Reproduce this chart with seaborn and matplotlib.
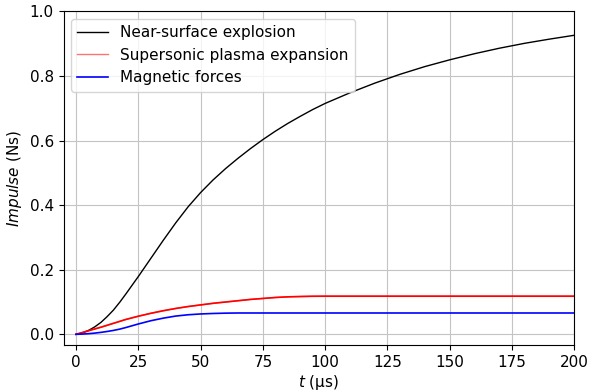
import matplotlib
matplotlib.use("Agg")
import matplotlib.pyplot as plt
import seaborn as sns
import pandas as pd

t = [0, 2.5, 5, 7.5, 10, 12.5, 15, 17.5, 20, 25, 30, 35, 40, 45, 50, 55, 60, 65, 70, 75,
     80, 85, 90, 95, 100, 110, 120, 130, 140, 150, 160, 170, 180, 190, 200]
near_surface = [0.0, 0.004, 0.012, 0.023, 0.037, 0.055, 0.075, 0.099, 0.125, 0.179,
                0.235, 0.291, 0.345, 0.395, 0.439, 0.478, 0.513, 0.545, 0.575, 0.603,
                0.629, 0.653, 0.675, 0.696, 0.715, 0.748, 0.778, 0.805, 0.829, 0.850,
                0.869, 0.886, 0.901, 0.914, 0.926]
plasma = [0.0, 0.0055, 0.011, 0.0165, 0.022, 0.028, 0.034, 0.040, 0.046, 0.056,
          0.065, 0.073, 0.080, 0.086, 0.091, 0.096, 0.100, 0.104, 0.108, 0.111,
          0.114, 0.116, 0.117, 0.1178, 0.118, 0.118, 0.118, 0.118, 0.118, 0.118,
          0.118, 0.118, 0.118, 0.118, 0.118]
magnetic = [0.0, 0.0007, 0.002, 0.0037, 0.006, 0.0088, 0.012, 0.016, 0.021, 0.032,
            0.042, 0.050, 0.0565, 0.0605, 0.063, 0.0645, 0.0655, 0.066, 0.066, 0.066,
            0.066, 0.066, 0.066, 0.066, 0.066, 0.066, 0.066, 0.066, 0.066, 0.066,
            0.066, 0.066, 0.066, 0.066, 0.066]

labels = ["Near-surface explosion", "Supersonic plasma expansion", "Magnetic forces"]

df = pd.DataFrame({"t": t, "black": near_surface, "red": plasma, "blue": magnetic})

fig = plt.figure(figsize=(5.89, 3.92), dpi=100)
ax = fig.add_axes([0.108, 0.12, 0.867, 0.851])

sns.lineplot(data=df, x="t", y="black", color="black", lw=1.0, label=labels[0], ax=ax)
sns.lineplot(data=df, x="t", y="red", color="red", lw=1.0, alpha=0.55, label=labels[1], ax=ax)
sns.lineplot(data=df, x="t", y="red", color="red", lw=1.2, ax=ax)
sns.lineplot(data=df, x="t", y="blue", color="blue", lw=1.2, label=labels[2], ax=ax)

ax.set_xlim(-5, 200)
ax.set_ylim(-0.033, 1.0)
ax.set_xticks([0, 25, 50, 75, 100, 125, 150, 175, 200])
ax.set_yticks([0.0, 0.2, 0.4, 0.6, 0.8, 1.0])
ax.grid(True, color="#c4c4c4", lw=0.8)
ax.set_axisbelow(True)
ax.set_xlabel(r"$t$ ($\mathregular{\mu}$s)", fontsize=11, labelpad=2.5)
ax.set_ylabel(r"$Impulse$ (Ns)", fontsize=11)
ax.tick_params(labelsize=11)
ax.legend(loc="upper left", fontsize=11)

fig.savefig("out.png", dpi=100)
